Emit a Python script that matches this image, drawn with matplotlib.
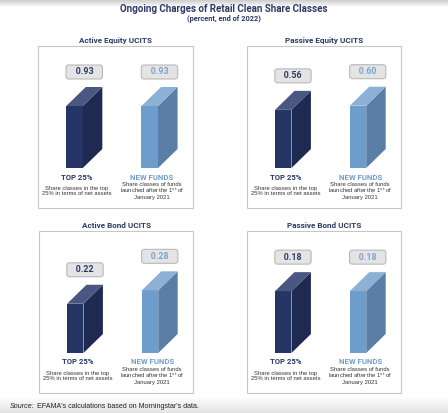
import numpy as np
import matplotlib
matplotlib.use("Agg")
import matplotlib.pyplot as plt
from matplotlib.patches import Polygon, Rectangle

# ---------------- data ----------------
panel_titles = ["Active Equity UCITS", "Passive Equity UCITS",
                "Active Bond UCITS", "Passive Bond UCITS"]
categories = ["TOP 25%", "NEW FUNDS"]
descriptions = ["Share classes in the top\n25% in terms of net assets",
                "Share classes of funds\nlaunched after the 1$^{\\rm st}$ of\nJanuary 2021"]
top25 = [0.93, 0.56, 0.22, 0.18]
new_funds = [0.93, 0.60, 0.28, 0.18]
value_labels_top = ["0.93", "0.56", "0.22", "0.18"]
value_labels_new = ["0.93", "0.60", "0.28", "0.18"]
title = "Ongoing Charges of Retail Clean Share Classes"
subtitle = "(percent, end of 2022)"
source_italic = "Source:"
source_rest = " EFAMA's calculations based on Morningstar's data."

# ---------------- styling ----------------
W, H = 448, 413
DPI = 100
NAVY = "#2b3a67"
dark = dict(front="#253565", side="#1e2a52", top="#4b5783")
light = dict(front="#6f9dcb", side="#5a7ea6", top="#8db0d5")
ymax_panel = [1.83, 1.175, 0.545, 0.355]   # per-panel axis scale
boxes = [(38, 46, 193, 208), (247, 46, 401, 208),
         (39, 231, 193, 393), (247, 231, 401, 393)]
bar_bottom = [168, 168, 353, 353]

fig = plt.figure(figsize=(W / DPI, H / DPI), dpi=DPI)
fig.patch.set_facecolor("white")

# background axes in pixel coordinates
bg = fig.add_axes([0, 0, 1, 1], zorder=0)
bg.axis("off")
top_grad = np.linspace(0.80, 1.0, 50).reshape(-1, 1)
bg.imshow(top_grad, extent=(0, W, 7, 0), cmap="gray", vmin=0, vmax=1,
          aspect="auto", interpolation="bilinear")
bot_grad = np.linspace(1.0, 0.89, 50).reshape(-1, 1)
bg.imshow(bot_grad, extent=(0, W, H, 396), cmap="gray", vmin=0, vmax=1,
          aspect="auto", interpolation="bilinear")
bg.set_xlim(0, W)
bg.set_ylim(H, 0)

for (x0, y0, x1, y1) in boxes:
    bg.add_patch(Rectangle((x0 + 1, y0 + 1), x1 - x0, y1 - y0, fc="#e4e4e4",
                           ec="none", zorder=1))
    bg.add_patch(Rectangle((x0, y0), x1 - x0, y1 - y0, fc="white",
                           ec="#c6c6c6", lw=0.8, zorder=2))

sans = ["Roboto", "DejaVu Sans"]
narrow = ["Liberation Sans Narrow", "Roboto", "DejaVu Sans"]
arial = ["Liberation Sans", "DejaVu Sans"]

bg.text(W / 2, 9, title, ha="center", va="center", fontsize=7.0,
        fontweight="bold", color=NAVY, family=sans)
bg.text(W / 2, 19, subtitle, ha="center", va="center", fontsize=5.3,
        fontweight="bold", color=NAVY, family=sans)

t1 = bg.text(10, 407, source_italic, ha="left", va="center", fontsize=5.1,
             style="italic", color="#222222", family=arial)
bg.annotate(source_rest, xy=(1, 0.5), xycoords=t1, ha="left", va="center",
            fontsize=5.1, color="#222222", family=arial)

w = 0.22      # front face width (x units)
dx = 0.26     # depth in x units
depth_px = 19

for i in range(4):
    x0, y0, x1, y1 = boxes[i]
    bb = bar_bottom[i]
    ax = fig.add_axes([x0 / W, 1 - bb / H, (x1 - x0) / W, (bb - y0) / H], zorder=3)
    ax.set_xlim(-0.485, 1.575)
    ymax = ymax_panel[i]
    ax.set_ylim(0, ymax)
    ax.axis("off")
    ax.patch.set_alpha(0)
    dy = depth_px * ymax / (bb - y0)

    bg.text((x0 + x1) / 2, y0 - 6, panel_titles[i], ha="center", va="center",
            fontsize=5.9, fontweight="bold", color=NAVY, family=sans)

    vals = [top25[i], new_funds[i]]
    labels = [value_labels_top[i], value_labels_new[i]]
    styles = [dark, light]
    xs = np.arange(2)
    ax.bar(xs, vals, width=w, color=[s["front"] for s in styles], zorder=3)
    for x, v, s, lab, cat, desc in zip(xs, vals, styles, labels, categories, descriptions):
        r = x + w / 2
        l = x - w / 2
        ax.add_patch(Polygon([(r, 0), (r, v), (r + dx, v + dy), (r + dx, dy)],
                             closed=True, fc=s["side"], ec="none", zorder=3, clip_on=False))
        ax.add_patch(Polygon([(l, v), (r, v), (r + dx, v + dy), (l + dx, v + dy)],
                             closed=True, fc=s["top"], ec="none", zorder=3, clip_on=False))
        tcol = NAVY if s is dark else "#7ea4cc"
        ax.annotate("   " + lab + "   ", xy=(x + dx / 2, v + dy), xytext=(0, 15),
                    textcoords="offset pixels", ha="center", va="center",
                    fontsize=6.4, fontweight="bold", color=tcol, family=narrow,
                    bbox=dict(boxstyle="round,pad=0.28,rounding_size=0.3",
                              fc="#e4e4e4", ec="#b9b9b9", lw=0.8),
                    annotation_clip=False, zorder=5)
        ccol = NAVY if s is dark else "#6f9dcb"
        ax.annotate(cat, xy=(x + 0.03, 0), xytext=(0, -9),
                    textcoords="offset pixels", ha="center", va="center",
                    fontsize=5.6, fontweight="bold", color=ccol, family=narrow,
                    annotation_clip=False)
        ax.annotate(desc, xy=(x + 0.03, 0), xytext=(0, -23),
                    textcoords="offset pixels", ha="center", va="center",
                    fontsize=4.2, color="#333333", linespacing=0.95,
                    family=arial, annotation_clip=False)

fig.savefig("out.png", dpi=DPI)
